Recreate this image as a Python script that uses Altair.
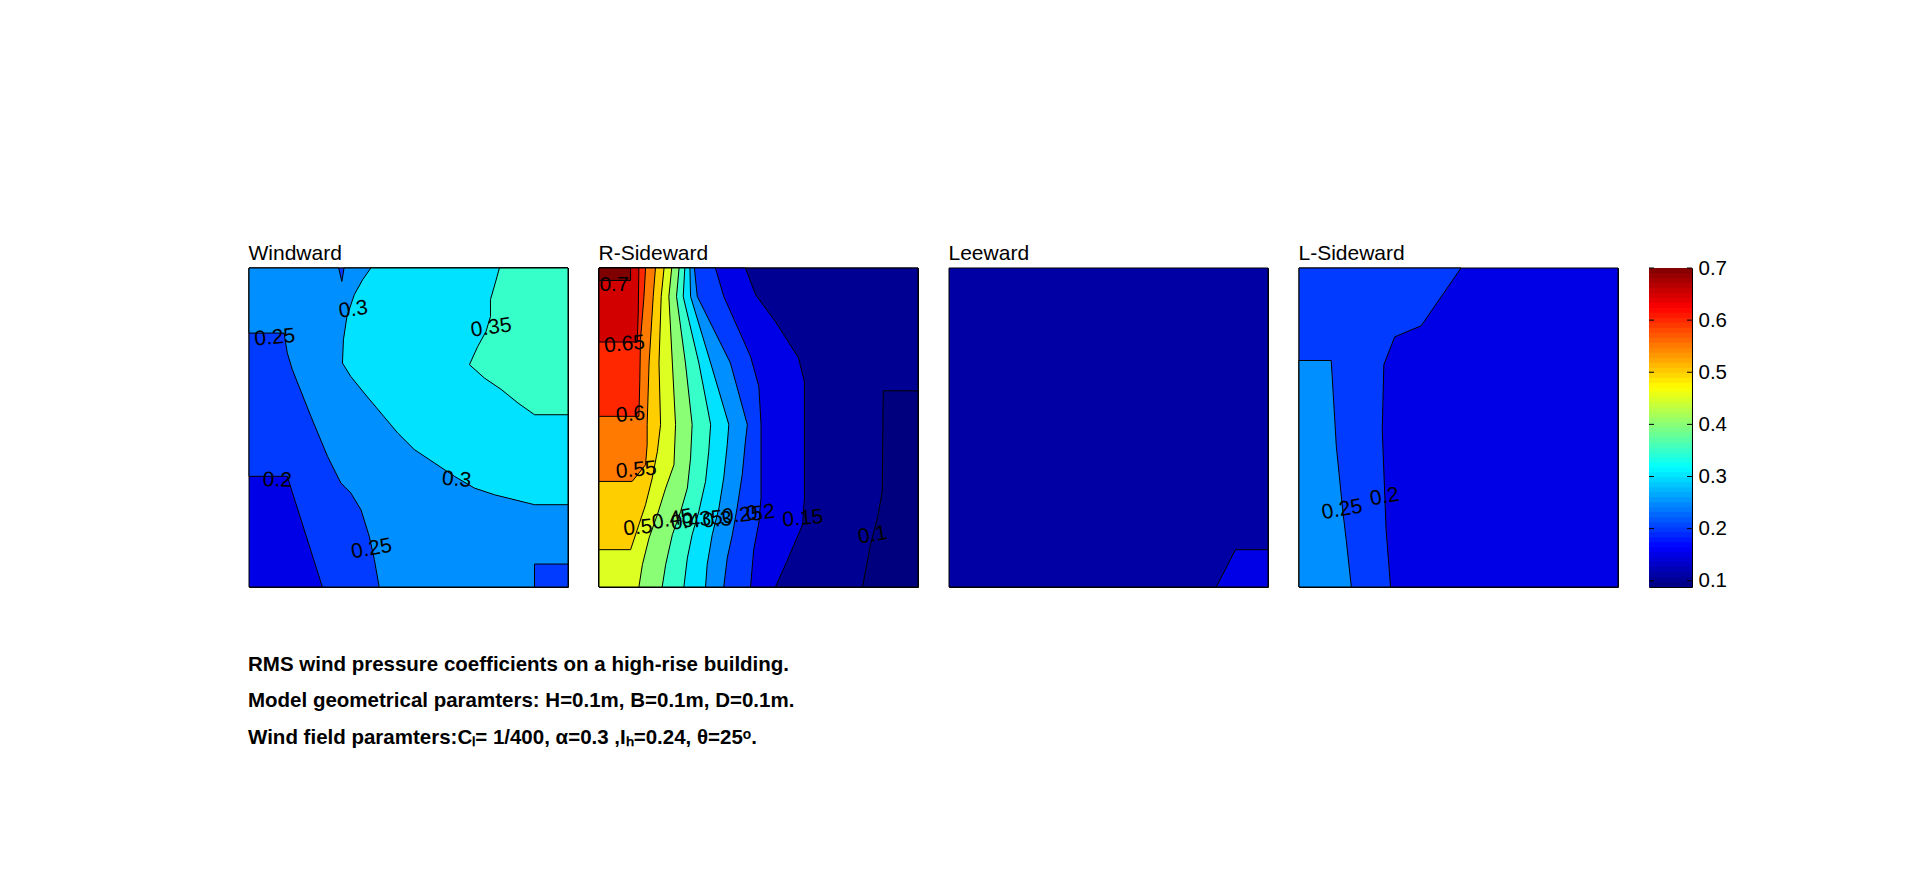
import altair as alt
import pandas as pd

FONT = "Liberation Sans"

# ---------------- data ----------------
# Each face: regions where the RMS coefficient >= level; outlines in % of face width (x) and height (y)
WW_LEVELS = [0.15, 0.20, 0.25, 0.30, 0.35]
WW_X = [
    [0, 100, 100, 0],
    [0, 100, 100, 23.0, 12.0, 0],
    [0, 28.1, 29.1, 29.8, 100, 100, 89.5, 89.5, 40.8, 39.3, 37.7, 35.1, 31.9, 28.8, 24.6, 19.4, 13.6, 12.0, 11.0, 0],
    [38.2, 100, 100, 89.5, 77.0, 70.7, 64.4, 58.1, 51.8, 46.6, 41.4, 36.1, 31.9, 29.3, 29.6, 30.7, 33.0, 35.6],
    [78.5, 100, 100, 89.5, 84.3, 79.1, 73.8, 69.1, 71.7, 74.3, 75.7, 75.7, 77.2],
]
WW_Y = [
    [100, 100, 0, 0],
    [100, 100, 0, 0, 34.7, 34.7],
    [100, 100, 95.8, 100, 100, 7.2, 7.2, 0, 0, 8.6, 15.9, 24.2, 29.5, 32.6, 41.0, 53.5, 68.1, 73.4, 79.6, 79.6],
    [100, 100, 25.8, 25.8, 28.9, 31.0, 34.7, 38.9, 43.1, 48.3, 54.5, 60.8, 66.0, 70.2, 77.5, 84.8, 91.6, 96.3],
    [100, 100, 54.0, 54.0, 57.7, 61.9, 65.5, 69.7, 75.4, 80.1, 84.8, 90.1, 95.3],
]
WW_LABELS = ["0.3", "0.25", "0.35", "0.2", "0.3", "0.25"]
WW_LABEL_X = [32.7, 8.1, 75.9, 8.9, 65.1, 38.4]
WW_LABEL_Y = [86.9, 78.1, 81.2, 33.4, 33.6, 11.9]
WW_LABEL_ANGLE = [352, 355, 352, 2, 5, 350]

RS_LEVELS = [0.088, 0.10, 0.15, 0.20, 0.25, 0.30, 0.35, 0.40, 0.45, 0.50, 0.55, 0.60, 0.65, 0.70]
RS_X = [
    [0, 100, 100, 0],
    [0, 100, 100, 89.1, 88.8, 87.3, 85.1, 82.6, 0],
    [0, 45.9, 49.1, 55.3, 62.5, 64.4, 64.4, 63.8, 59.4, 55.3, 0],
    [0, 36.5, 39.1, 47.5, 50.1, 50.8, 50.8, 50.1, 48.5, 47.5, 0],
    [0, 29.9, 30.8, 41.2, 46.5, 45.9, 44.9, 43.3, 41.8, 40.2, 39.1, 0],
    [0, 28.5, 28.7, 35.0, 40.7, 40.2, 39.1, 37.6, 35.5, 33.9, 33.4, 0],
    [0, 26.9, 26.4, 31.3, 35.0, 34.4, 33.4, 31.3, 29.2, 27.7, 26.6, 0],
    [0, 25.1, 24.3, 27.1, 29.2, 28.7, 27.7, 25.6, 23.0, 20.9, 19.8, 0],
    [0, 22.8, 21.9, 23.0, 24.0, 23.5, 20.9, 18.3, 15.7, 13.6, 12.5, 0],
    [0, 20.4, 19.5, 18.8, 19.3, 18.3, 16.7, 14.6, 12.5, 9.9, 0],
    [0, 17.7, 17.0, 15.7, 15.1, 15.1, 14.6, 10.4, 0],
    [0, 14.6, 14.1, 13.0, 12.8, 12.5, 0],
    [0, 12.5, 12.3, 12.0, 0],
    [0, 9.9, 9.9, 0],
]
RS_Y = [
    [100, 100, 0, 0],
    [100, 100, 61.5, 61.5, 29.9, 21.7, 13.3, 0, 0],
    [100, 100, 91.6, 83.2, 71.9, 64.4, 28.0, 19.5, 9.2, 0, 0],
    [100, 100, 91.1, 72.3, 62.9, 50.9, 27.9, 20.1, 11.7, 0, 0],
    [100, 100, 91.1, 70.2, 50.9, 45.7, 35.2, 24.8, 16.4, 9.1, 0, 0],
    [100, 100, 91.1, 70.2, 50.9, 44.6, 34.2, 24.8, 16.4, 7.0, 0, 0],
    [100, 100, 91.1, 70.2, 50.9, 42.5, 33.1, 23.7, 16.4, 9.1, 0, 0],
    [100, 100, 91.1, 70.2, 50.9, 40.4, 31.0, 23.7, 16.4, 7.0, 0, 0],
    [100, 100, 91.1, 70.2, 50.9, 38.3, 31.0, 22.7, 15.4, 7.0, 0, 0],
    [100, 100, 91.1, 70.2, 50.9, 42.5, 34.2, 25.8, 19.5, 11.7, 11.7],
    [100, 100, 91.1, 70.2, 50.9, 44.6, 38.3, 33.1, 33.1],
    [100, 100, 91.1, 77.5, 65.0, 53.5, 53.5],
    [100, 100, 85.9, 76.8, 76.8],
    [100, 100, 96.1, 96.1],
]
RS_LABELS = ["0.7", "0.65", "0.6", "0.55", "0.5", "0.45", "0.4", "0.35", "0.3", "0.25", "0.2", "0.15", "0.1"]
RS_LABEL_X = [4.7, 8.0, 9.9, 11.7, 12.2, 23.0, 27.1, 32.4, 37.1, 44.9, 50.6, 63.9, 85.8]
RS_LABEL_Y = [94.8, 76.0, 54.0, 36.6, 18.5, 21.1, 20.3, 21.1, 20.9, 22.4, 23.2, 21.4, 16.2]
RS_LABEL_ANGLE = [0, 355, 355, 355, 355, 350, 355, 355, 355, 355, 355, 355, 350]

LW_LEVELS = [0.11, 0.15]
LW_X = [[0, 100, 100, 0], [83.8, 89.8, 100, 100]]
LW_Y = [[100, 100, 0, 0], [0, 11.7, 11.7, 0]]

LS_LEVELS = [0.15, 0.20, 0.25]
LS_X = [
    [0, 100, 100, 0],
    [0, 50.8, 38.3, 30.0, 26.6, 26.1, 27.3, 28.7, 0],
    [0, 10.1, 11.7, 13.8, 14.8, 16.4, 0],
]
LS_Y = [
    [100, 100, 0, 0],
    [100, 100, 81.9, 78.4, 69.7, 49.3, 18.0, 0, 0],
    [71.0, 71.0, 44.1, 23.2, 14.8, 0, 0],
]
LS_LABELS = ["0.25", "0.2"]
LS_LABEL_X = [13.5, 26.8]
LS_LABEL_Y = [24.2, 28.2]
LS_LABEL_ANGLE = [350, 350]

CB_TICKS = [0.1, 0.2, 0.3, 0.4, 0.5, 0.6, 0.7]
CB_MIN, CB_MAX = 0.088, 0.7

CAPTION = [
    "RMS wind pressure coefficients on a high-rise building.",
    "Model geometrical paramters: H=0.1m, B=0.1m, D=0.1m.",
    "Wind field paramters:C\u2097= 1/400, \u03b1=0.3 ,I\u2095=0.24, \u03b8=25\u1d52.",
]

# ---------------- styling ----------------
JET_STOPS = [0, 0.125, 0.375, 0.625, 0.875, 1]
JET_COLORS = ["#00007f", "#0000ff", "#00ffff", "#ffff00", "#ff0000", "#7f0000"]
JET = alt.Scale(domain=[CB_MIN + s * (CB_MAX - CB_MIN) for s in JET_STOPS],
                range=JET_COLORS, clamp=True, interpolate="rgb")
PANEL = 319


def regions_df(levels, xs, ys):
    rows = []
    for r, (lev, rx, ry) in enumerate(zip(levels, xs, ys)):
        pts = list(zip(rx, ry)) + [(rx[0], ry[0])]  # close the outline
        for k, (x, y) in enumerate(pts):
            rows.append({"rid": f"r{r:02d}", "k": k, "x": x, "y": y, "level": lev})
    return pd.DataFrame(rows)


def face(title, levels, xs, ys, labels=None, lx=None, ly=None, la=None):
    sx = alt.Scale(domain=[0, 100], nice=False, zero=False)
    sy = alt.Scale(domain=[0, 100], nice=False, zero=False)
    poly = alt.Chart(regions_df(levels, xs, ys)).mark_line(
        stroke="black", strokeWidth=1, strokeJoin="round"
    ).encode(
        x=alt.X("x:Q", scale=sx, axis=None),
        y=alt.Y("y:Q", scale=sy, axis=None),
        fill=alt.Fill("level:Q", scale=JET, legend=None),
        detail="rid:N",
        order="k:Q",
    )
    layers = [poly]
    if labels:
        lab = pd.DataFrame({"t": labels, "x": lx, "y": ly, "a": la})
        layers.append(
            alt.Chart(lab).mark_text(font=FONT, fontSize=21, color="black").encode(
                x=alt.X("x:Q", scale=sx, axis=None),
                y=alt.Y("y:Q", scale=sy, axis=None),
                text="t:N",
                angle=alt.Angle("a:Q", scale=None),
            )
        )
    return alt.layer(*layers).properties(
        width=PANEL, height=PANEL,
        title=alt.TitleParams(title, anchor="start", font=FONT, fontSize=21,
                              fontWeight="normal", offset=9, dy=22, baseline="alphabetic",
                              color="black"),
    )


faces = [
    face("Windward", WW_LEVELS, WW_X, WW_Y, WW_LABELS, WW_LABEL_X, WW_LABEL_Y, WW_LABEL_ANGLE),
    face("R-Sideward", RS_LEVELS, RS_X, RS_Y, RS_LABELS, RS_LABEL_X, RS_LABEL_Y, RS_LABEL_ANGLE),
    face("Leeward", LW_LEVELS, LW_X, LW_Y),
    face("L-Sideward", LS_LEVELS, LS_X, LS_Y, LS_LABELS, LS_LABEL_X, LS_LABEL_Y, LS_LABEL_ANGLE),
]

# colour bar (64-entry jet colormap, as drawn by the colorbar)
step = (CB_MAX - CB_MIN) / 64
cb_y = alt.Scale(domain=[CB_MIN, CB_MAX], nice=False, zero=False)
cb_axis = alt.Axis(orient="right", values=CB_TICKS, format=".1f", labelFont=FONT,
                   labelFontSize=20.5, labelColor="black", ticks=False, domain=False,
                   grid=False, labelPadding=6, title=None, labelOverlap=False)
stripes = alt.Chart(alt.sequence(0, 64, as_="i")).transform_calculate(
    lo=f"{CB_MIN} + datum.i * {step}",
    hi=f"min({CB_MAX}, {CB_MIN} + (datum.i + 1.6) * {step})",
    mid=f"{CB_MIN} + (datum.i + 0.5) * {step}",
).mark_rect().encode(
    y=alt.Y("lo:Q", scale=cb_y, axis=cb_axis),
    y2="hi:Q",
    fill=alt.Fill("mid:Q", scale=JET, legend=None),
)
tick_df = pd.DataFrame({"v": CB_TICKS})
ticks_l = alt.Chart(tick_df).mark_rule(color="black", strokeWidth=1).encode(
    y=alt.Y("v:Q", scale=cb_y, axis=cb_axis), x=alt.value(0), x2=alt.value(5))
ticks_r = alt.Chart(tick_df).mark_rule(color="black", strokeWidth=1).encode(
    y=alt.Y("v:Q", scale=cb_y, axis=cb_axis), x=alt.value(38), x2=alt.value(43))
colorbar = alt.layer(stripes, ticks_l, ticks_r).properties(width=43, height=PANEL)

chart = alt.hconcat(*faces, colorbar, spacing=31, bounds="flush").resolve_scale(
    x="independent", y="independent"
).properties(
    title=alt.TitleParams(CAPTION, orient="bottom", anchor="start", font=FONT, fontSize=20.5,
                          fontWeight="bold", lineHeight=36.5, offset=79, baseline="alphabetic",
                          color="black"),
    padding={"left": 240, "top": 234, "right": 10, "bottom": 10},
    background="white",
).configure_view(stroke="black", strokeWidth=1)

chart.save("out.html", embed_options={"renderer": "svg", "actions": False})
